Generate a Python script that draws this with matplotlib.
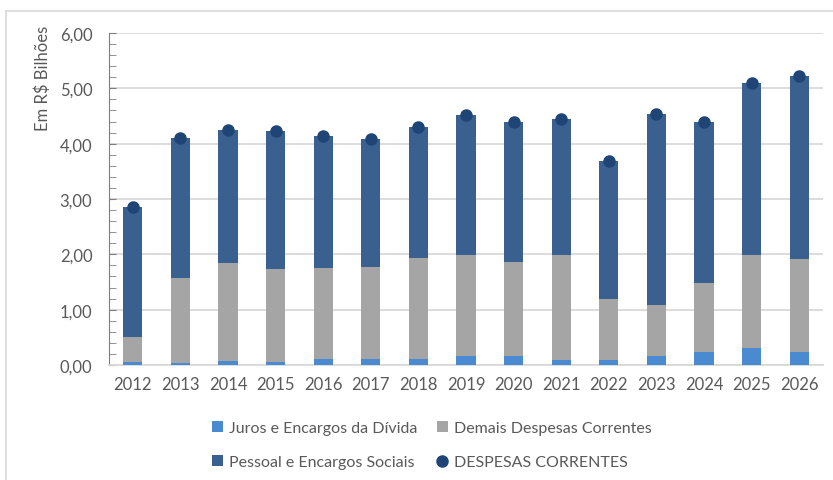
import matplotlib
matplotlib.use("Agg")
import matplotlib.pyplot as plt
from matplotlib.lines import Line2D
from matplotlib.ticker import MultipleLocator, FuncFormatter
import numpy as np

plt.rcParams["font.family"] = ["Lato", "DejaVu Sans"]

# Dados (R$ bilhões)
anos = ["2012", "2013", "2014", "2015", "2016", "2017", "2018", "2019",
        "2020", "2021", "2022", "2023", "2024", "2025", "2026"]
juros = [0.06, 0.04, 0.08, 0.06, 0.10, 0.10, 0.11, 0.16,
         0.16, 0.09, 0.09, 0.16, 0.23, 0.31, 0.23]
demais = [0.44, 1.53, 1.76, 1.67, 1.65, 1.68, 1.82, 1.83,
          1.70, 1.89, 1.10, 0.92, 1.26, 1.68, 1.69]
pessoal = [2.35, 2.53, 2.41, 2.49, 2.38, 2.30, 2.38, 2.53,
           2.53, 2.46, 2.50, 3.46, 2.90, 3.10, 3.30]
despesas_correntes = [2.85, 4.10, 4.25, 4.22, 4.13, 4.08, 4.31, 4.52,
                      4.39, 4.44, 3.69, 4.54, 4.39, 5.09, 5.22]

COR_JUROS = "#4A8AD0"
COR_DEMAIS = "#A5A5A5"
COR_PESSOAL = "#3A6090"
COR_TOTAL = "#1F4577"
COR_TEXTO = "#595959"

fig = plt.figure(figsize=(8.33, 4.81), dpi=100)
ax = fig.add_axes([109 / 833, 1 - 366 / 481, 714 / 833, 332 / 481])

x = np.arange(len(anos))
w = 0.4
base2 = np.array(juros)
base3 = base2 + np.array(demais)
ax.bar(x, juros, w, color=COR_JUROS, zorder=3, label="Juros e Encargos da Dívida")
ax.bar(x, demais, w, bottom=base2, color=COR_DEMAIS, zorder=3,
       label="Demais Despesas Correntes")
ax.bar(x, pessoal, w, bottom=base3, color=COR_PESSOAL, zorder=3,
       label="Pessoal e Encargos Sociais")
ax.plot(x, despesas_correntes, "o", color=COR_TOTAL, markersize=8, zorder=4,
        label="DESPESAS CORRENTES")

ax.set_xlim(-0.5, len(anos) - 0.5)
ax.set_ylim(0, 6)
ax.set_xticks(x)
ax.set_xticklabels(anos)
ax.yaxis.set_major_locator(MultipleLocator(1))
ax.yaxis.set_minor_locator(MultipleLocator(0.2))
ax.yaxis.set_major_formatter(FuncFormatter(lambda v, p: f"{v:.2f}".replace(".", ",")))
ax.tick_params(axis="y", which="both", direction="in", length=5, color="#7F7F7F",
               labelsize=12, labelcolor=COR_TEXTO, pad=12)
ax.tick_params(axis="x", length=0, labelsize=12, labelcolor=COR_TEXTO, pad=8)
ax.grid(axis="y", color="#D9D9D9", linewidth=1.3, zorder=0)
for s in ["top", "right"]:
    ax.spines[s].set_visible(False)
ax.spines["left"].set_color("#7F7F7F")
ax.spines["bottom"].set_color("#D9D9D9")
ax.spines["bottom"].set_linewidth(1.3)

fig.text(43 / 833, 1 - 78 / 481, "Em R$ Bilhões", rotation=90, ha="center",
         va="center", fontsize=12, color=COR_TEXTO)

# moldura (só topo e esquerda visíveis no recorte)
fig.add_artist(Line2D([6 / 833, 1], [1 - 12 / 481, 1 - 12 / 481],
                      color="#D9D9D9", linewidth=1.2))
fig.add_artist(Line2D([6 / 833, 6 / 833], [0, 1 - 12 / 481],
                      color="#D9D9D9", linewidth=1.2))

handles, labels = ax.get_legend_handles_labels()
# ordem: juros, demais / pessoal, total
order = [1, 2, 3, 0]
h = [handles[i] for i in order]
l = [labels[i] for i in order]
leg = fig.legend([h[0], h[2], h[1], h[3]], [l[0], l[2], l[1], l[3]],
                 ncol=2, loc="center", bbox_to_anchor=(432 / 833, 1 - 446 / 481),
                 frameon=False, fontsize=11.5, handlelength=0.7, handleheight=0.7,
                 handletextpad=0.4, columnspacing=1.2, labelspacing=1.25,
                 labelcolor=COR_TEXTO)

fig.savefig("out.png", dpi=100)
